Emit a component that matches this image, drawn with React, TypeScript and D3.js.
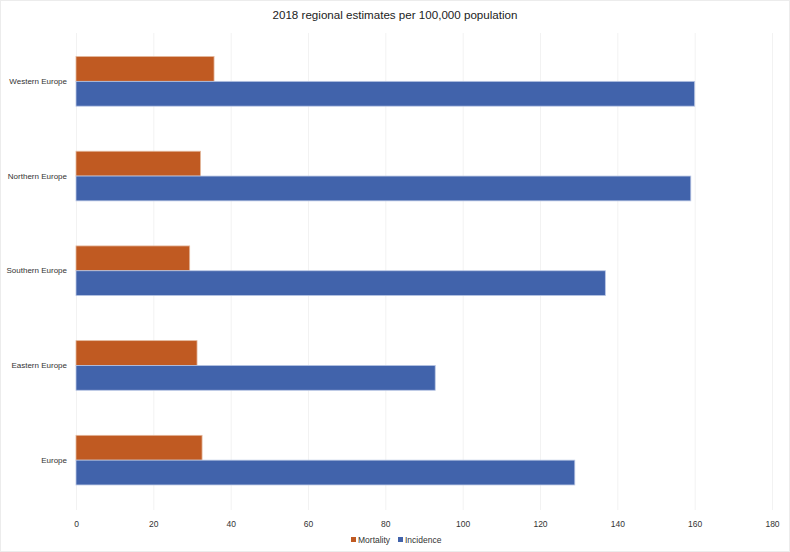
import { useEffect, useRef } from 'react'
import * as d3 from 'd3'

const regions = ['Western Europe', 'Northern Europe', 'Southern Europe', 'Eastern Europe', 'Europe']
const mortality = [35.7, 32.2, 29.4, 31.3, 32.6]
const incidence = [160.0, 159.0, 136.9, 92.9, 129.0]
const seriesNames = ['Mortality', 'Incidence']
const xTicks = [0, 20, 40, 60, 80, 100, 120, 140, 160, 180]

const COLORS: Record<string, string> = { Mortality: '#c05a22', Incidence: '#4163ab' }
const FONT = '"Liberation Sans", Arial, sans-serif'

export default function App() {
  const ref = useRef<SVGSVGElement>(null)

  useEffect(() => {
    const svg = d3.select(ref.current!)
    svg.selectAll('*').remove()
    const W = 790, H = 552
    const m = { t: 33, r: 18, b: 42, l: 76 }
    const iW = W - m.l - m.r, iH = H - m.t - m.b

    svg.append('rect').attr('x', 0.5).attr('y', 0.5).attr('width', W - 1).attr('height', H - 1)
      .attr('fill', '#fff').attr('stroke', '#ececec')

    svg.append('text').attr('x', W / 2).attr('y', 19).attr('text-anchor', 'middle')
      .attr('font-family', FONT).attr('font-size', 11.6).attr('fill', '#222')
      .text('2018 regional estimates per 100,000 population')

    const g = svg.append('g').attr('transform', `translate(${m.l},${m.t})`)
    const x = d3.scaleLinear().domain([0, 180]).range([0, iW])
    const y = d3.scaleBand().domain(regions).range([1, 474.5]).paddingInner(0.476).paddingOuter(0.238)
    const y1 = d3.scaleBand().domain(seriesNames).range([0, y.bandwidth()])

    // Grid lines
    g.append('g').call(d3.axisBottom(x).tickValues(xTicks).tickSize(iH).tickFormat(() => ''))
      .call(a => a.select('.domain').remove())
      .selectAll('line').attr('stroke', '#f2f2f2')

    // X tick labels
    g.append('g').attr('transform', `translate(0,${iH})`)
      .call(d3.axisBottom(x).tickValues(xTicks).tickSize(0).tickPadding(11).tickFormat(d3.format('d')))
      .call(a => a.select('.domain').remove())
      .selectAll('text').attr('fill', '#333').attr('font-size', 8.5).attr('font-family', FONT)

    // Y labels
    g.append('g').call(d3.axisLeft(y).tickSize(0).tickPadding(9))
      .call(a => a.select('.domain').remove())
      .selectAll('text').attr('fill', '#333').attr('font-size', 8).attr('font-family', FONT)

    regions.forEach((r, i) => {
      const vals: Record<string, number> = { Mortality: mortality[i], Incidence: incidence[i] }
      seriesNames.forEach(s => {
        g.append('rect').attr('x', x(0)).attr('y', (y(r) ?? 0) + (y1(s) ?? 0))
          .attr('width', x(vals[s]) - x(0)).attr('height', y1.bandwidth())
          .attr('fill', COLORS[s]).attr('stroke', s === 'Incidence' ? '#b9c6e4' : '#e3b79c').attr('stroke-width', 0.8)
      })
    })

    // Legend
    const leg = svg.append('g').attr('transform', `translate(351, 537)`)
    const offs = [0, 47]
    seriesNames.forEach((s, i) => {
      leg.append('rect').attr('x', offs[i]).attr('y', 0).attr('width', 5).attr('height', 5).attr('fill', COLORS[s])
      leg.append('text').attr('x', offs[i] + 7).attr('y', 6).attr('font-size', 8.5).attr('font-family', FONT)
        .attr('fill', '#333').text(s)
    })
  }, [])

  return <svg ref={ref} width={790} height={552} style={{ position: 'absolute', left: 0, top: 0, display: 'block' }} />
}
